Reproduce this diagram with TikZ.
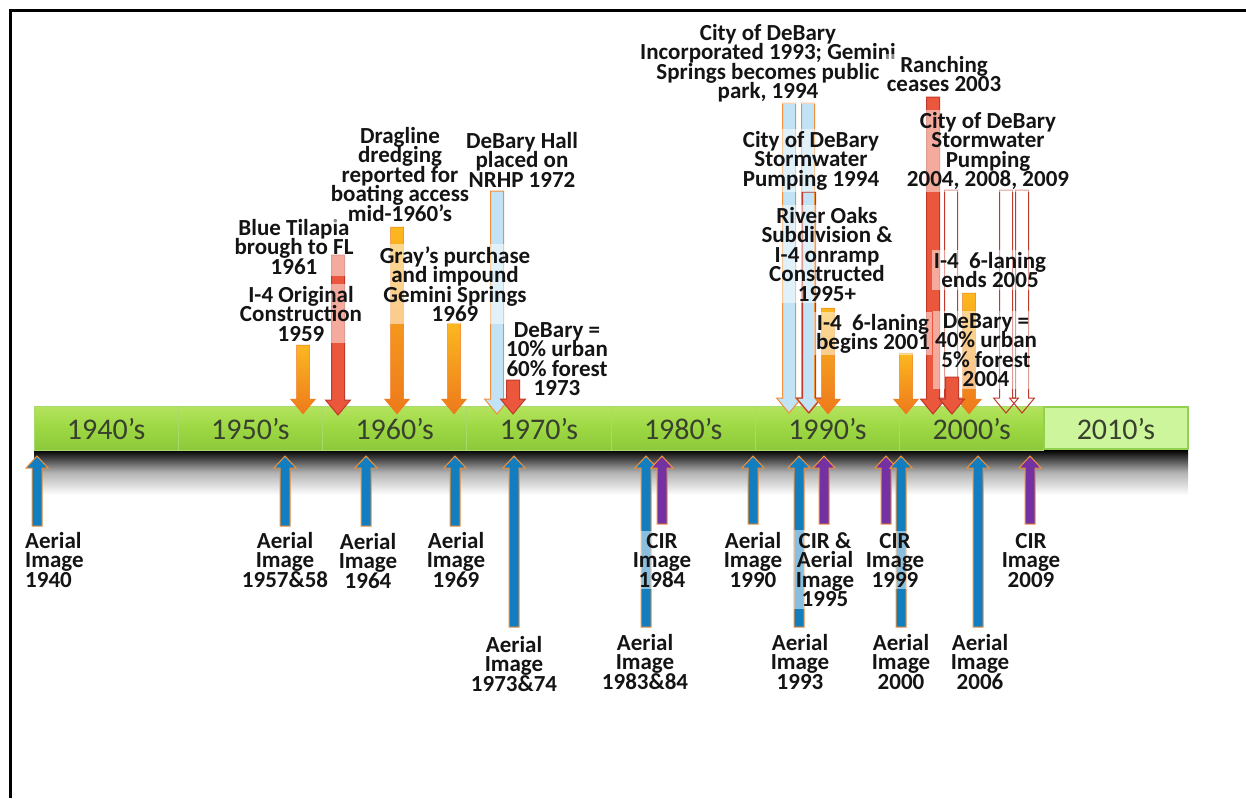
\documentclass[tikz,border=0pt]{standalone}
\usepackage{fontspec}
\setmainfont{Carlito}
\definecolor{orTop}{HTML}{FBB81F}
\definecolor{orBot}{HTML}{EE791C}
\definecolor{redF}{HTML}{EA573D}
\definecolor{redD}{HTML}{C0392B}
\definecolor{lblue}{HTML}{C2E3F5}
\definecolor{orEdge}{HTML}{F0913A}
\definecolor{blueF}{HTML}{137EBF}
\definecolor{purF}{HTML}{7431A1}
\definecolor{barTop}{HTML}{B4E35E}
\definecolor{barMid}{HTML}{9DD843}
\definecolor{barBot}{HTML}{8CC83A}
\definecolor{barEdge}{HTML}{A6DA6A}
\definecolor{lastF}{HTML}{CDF59B}
\definecolor{lastEdge}{HTML}{92D050}
\definecolor{decTxt}{HTML}{38402E}
\newcommand{\lblfont}{\bfseries\fontsize{23}{19.5}\selectfont\lineskiplimit=-40pt\relax\lineskip=0pt\relax}
\newcommand{\DnArr}[4]{\path[#1] (#2-6.5,#3) -- (#2+6.5,#3) -- (#2+6.5,#4-15) -- (#2+12.5,#4-15) -- (#2,#4) -- (#2-12.5,#4-15) -- (#2-6.5,#4-15) -- cycle;}
\newcommand{\UpArr}[4]{\path[#1] (#2-5,#3) -- (#2+5,#3) -- (#2+5,#4+12) -- (#2+11,#4+12) -- (#2,#4) -- (#2-11,#4+12) -- (#2-5,#4+12) -- cycle;}
\begin{document}
\begin{tikzpicture}[x=1pt,y=-1pt,
  lbl/.style={font=\lblfont, align=center, fill=white, fill opacity=0.5, text opacity=1, inner sep=2pt, anchor=base, text=black!92},
  dec/.style={font=\fontsize{30}{32}\selectfont, text=decTxt, anchor=base, inner sep=0pt},
  orarr/.style={top color=orTop, bottom color=orBot, draw=orBot, line width=0.5pt},
  redarr/.style={fill=redF, draw=redD, line width=1pt},
  lbarr/.style={fill=lblue, draw=orEdge, line width=1pt},
  roarr/.style={draw=redD, line width=1pt},
  bluarr/.style={fill=blueF, draw=orEdge, line width=1pt},
  purarr/.style={fill=purF, draw=orEdge, line width=1pt}]
\useasboundingbox (0,0) rectangle (1246,798);
\draw[line width=3pt] (10.5,798) -- (10.5,10.5) -- (1246,10.5);
% shadow under the bar
\shade[top color=black, bottom color=white, middle color=black!30] (34,450) rectangle (1188,495);
% decades
\foreach \i/\yr in {0/1940,1/1950,2/1960,3/1970,4/1980,5/1990,6/2000}{
  \path[top color=barTop, bottom color=barBot, middle color=barMid, draw=barEdge, line width=1pt] (34+\i*144.25,406) rectangle (34+\i*144.25+144.25,450);
  \node[dec] (d\yr) at (34+\i*144.25+72.1,439) {\yr’s};
}
\path[fill=lastF, draw=lastEdge, line width=1.5pt] (34+7*144.25,407) rectangle (34+8*144.25,449);
\node[dec] (d2010) at (34+7*144.25+72.1,439) {2010’s};
% down arrows
\DnArr{orarr}{303}{345}{414}
\DnArr{redarr}{338}{255}{415}
\DnArr{orarr}{397}{227}{414}
\DnArr{orarr}{454}{323}{414}
\DnArr{lbarr}{497}{191}{414}
\DnArr{lbarr}{789}{103}{413}
\DnArr{lbarr}{808}{103}{413}
\DnArr{roarr}{809}{192}{413}
\DnArr{orarr}{828}{308}{414}
\DnArr{orarr}{906}{353}{414}
\DnArr{redarr}{933}{97}{414}
\DnArr{roarr}{951}{190}{413}
\DnArr{orarr}{969}{293}{414}
\DnArr{roarr}{1006}{190}{413}
\DnArr{roarr}{1022}{190}{413}
% up arrows
\UpArr{bluarr}{37}{526}{456}
\UpArr{bluarr}{285}{526}{456}
\UpArr{bluarr}{366}{526}{456}
\UpArr{bluarr}{455}{526}{456}
\UpArr{bluarr}{514}{627}{456}
\UpArr{bluarr}{646}{627}{456}
\UpArr{purarr}{662}{524}{456}
\UpArr{bluarr}{753}{524}{456}
\UpArr{bluarr}{799}{627}{456}
\UpArr{purarr}{824}{524}{456}
\UpArr{purarr}{886}{524}{456}
\UpArr{bluarr}{901}{627}{456}
\UpArr{bluarr}{978}{627}{456}
\UpArr{purarr}{1030}{524}{456}
% top labels (anchored at the baseline of their last line)
\node[lbl] (tTil) at (294,274) {Blue Tilapia\\brough to FL\\1961};
\node[lbl] (tI4) at (301,341) {I-4 Original\\Construction\\1959};
\node[lbl] (tDrag) at (400,221) {Dragline\\dredging\\reported for\\boating access\\mid-1960’s};
\node[lbl] (tHall) at (522,187) {DeBary Hall\\placed on\\NRHP 1972};
\node[lbl] (tGray) at (455,321.5) {Gray’s purchase\\and impound\\Gemini Springs\\1969};
\node[lbl] (tDB73) at (557,395.5) {DeBary =\\10\% urban\\60\% forest\\1973};
\node[lbl] (tCity) at (768,98.5) {City of DeBary\\Incorporated 1993; Gemini\\Springs becomes public\\park, 1994};
\node[lbl] (tSW94) at (811,186) {City of DeBary\\Stormwater\\Pumping 1994};
\node[lbl] (tRiver) at (827,301) {River Oaks\\Subdivision \&\\I-4 onramp\\Constructed\\1995+};
\node[lbl] (tSix1) at (873,349.5) {I-4\ \ 6-laning\\begins 2001};
\node[lbl] (tRanch) at (944,91.5) {Ranching\\ceases 2003};
\node[lbl] (tSW04) at (988,186.5) {City of DeBary\\Stormwater\\Pumping\\2004, 2008, 2009};
\node[lbl] (tSix2) at (990,287.5) {I-4\ \ 6-laning\\ends 2005};
\node[lbl] (tDB04) at (986,386.5) {DeBary =\\40\% urban\\5\% forest\\2004};
% bottom labels
\node[lbl, align=left, anchor=base west] (b1940) at (23,587) {Aerial\\Image\\1940};
\node[lbl] (b1957) at (285,587) {Aerial\\Image\\1957\&58};
\node[lbl] (b1964) at (368,588) {Aerial\\Image\\1964};
\node[lbl] (b1969) at (456,587) {Aerial\\Image\\1969};
\node[lbl] (b1973) at (514,691) {Aerial\\Image\\1973\&74};
\node[lbl] (b1984) at (662,587) {CIR\\Image\\1984};
\node[lbl] (b1983) at (645,689) {Aerial\\Image\\1983\&84};
\node[lbl] (b1990) at (753,587) {Aerial\\Image\\1990};
\node[lbl] (b1995) at (825,606.5) {CIR \&\\Aerial\\Image\\1995};
\node[lbl] (b1993) at (800,689) {Aerial\\Image\\1993};
\node[lbl] (b1999) at (895,587) {CIR\\Image\\1999};
\node[lbl] (b2000) at (901,689) {Aerial\\Image\\2000};
\node[lbl] (b2006) at (980,689) {Aerial\\Image\\2006};
\node[lbl] (b2009) at (1031,587) {CIR\\Image\\2009};
% small red arrows on top
\DnArr{redarr}{513}{380}{414}
\DnArr{redarr}{952}{377}{414}
\end{tikzpicture}
\end{document}
